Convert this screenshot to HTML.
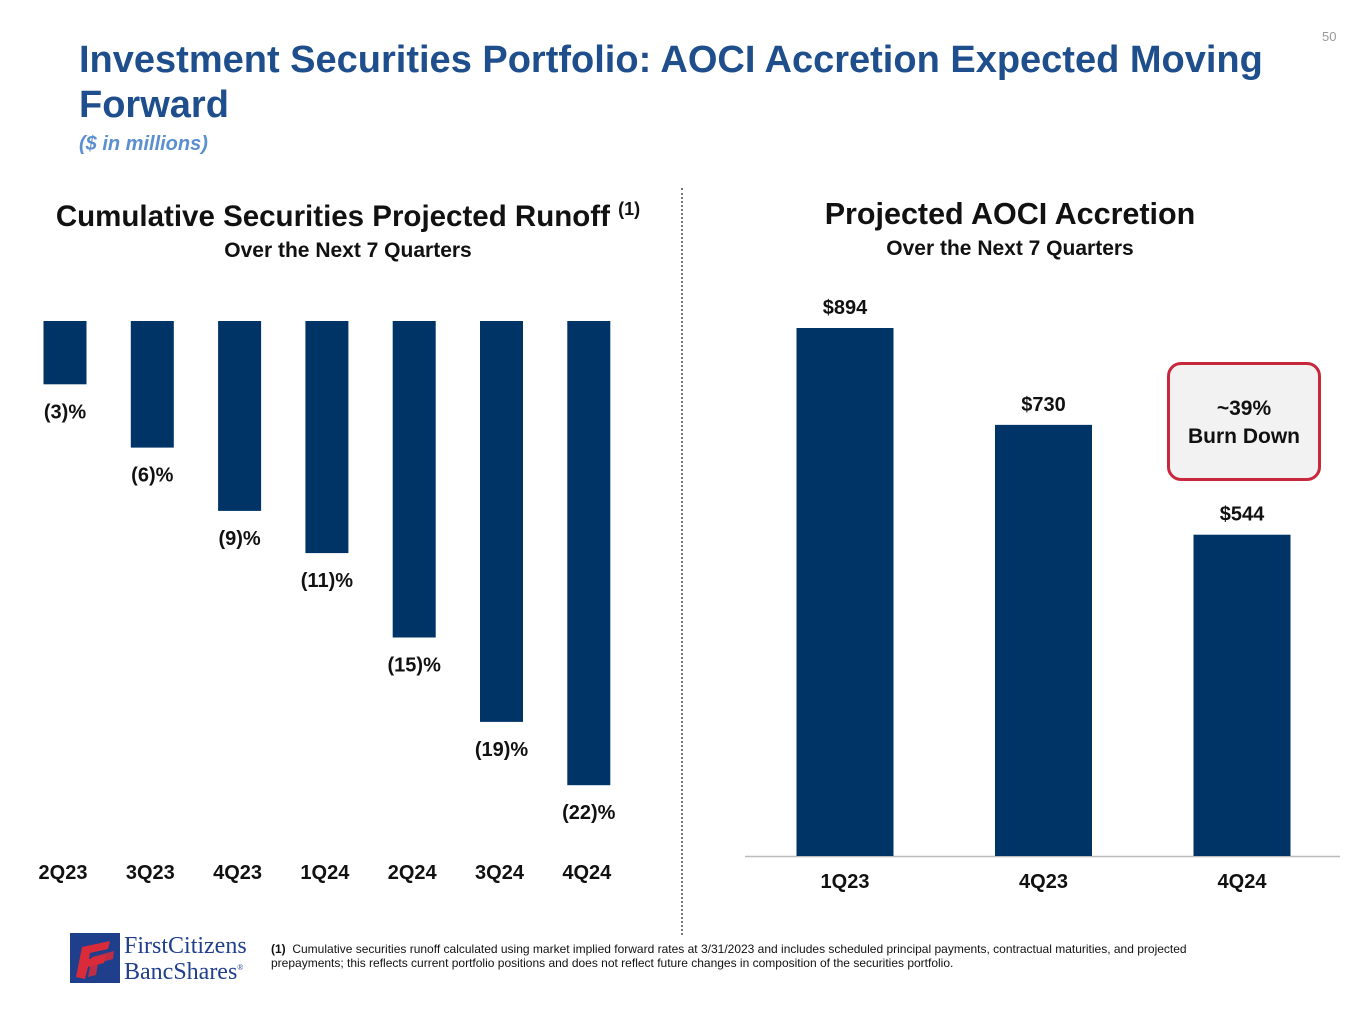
<!DOCTYPE html>
<html><head><meta charset="utf-8"><style>
body{margin:0;width:1365px;height:1024px;background:#fff;font-family:"Liberation Sans",Arial,sans-serif;position:relative;overflow:hidden}
.a{position:absolute}
</style></head><body>
<div class="a" style="left:1322px;top:29px;font-size:13px;color:#999">50</div>
<div class="a" style="left:79px;top:38px;width:1230px;font-size:38px;font-weight:bold;color:#1f4e8c;line-height:45px">Investment Securities Portfolio: AOCI Accretion Expected Moving Forward</div>
<div class="a" style="left:79px;top:133px;font-size:20px;font-weight:bold;font-style:italic;color:#5b8fd0">($ in millions)</div>
<div class="a" style="left:681px;top:188px;height:747px;border-left:2px dotted #777"></div>
<div class="a" style="left:0px;width:696px;top:199px;text-align:center;font-weight:bold;color:#111"><div style="font-size:29.5px;white-space:nowrap">Cumulative Securities Projected Runoff <sup style="font-size:18px">(1)</sup></div><div style="font-size:21px;margin-top:5px">Over the Next 7 Quarters</div></div>
<div class="a" style="left:740px;width:540px;top:197px;text-align:center;font-weight:bold;color:#111"><div style="font-size:30.5px">Projected AOCI Accretion</div><div style="font-size:21px;margin-top:5px">Over the Next 7 Quarters</div></div>
<svg class="a" style="left:0;top:0" width="1365" height="1024" id="charts"></svg>
<div class="a" style="left:1167px;top:362px;width:154px;height:119px;border:3px solid #c8283c;border-radius:14px;background:#f2f2f2;text-align:center;font-weight:bold;font-size:21px;color:#111;line-height:28px;box-sizing:border-box;padding-top:30px">~39%<br>Burn Down</div>
<svg class="a" style="left:70px;top:933px" width="50" height="50"><rect width="50" height="50" fill="#1f3f8c"/><path d="M6,44 L12,14 L40,8 L38,16 L20,20 L19,26 L36,22 L34,30 L18,34 L15,46Z" fill="#d92b3a"/><path d="M18,44 L22,24 L44,18 L43,26 L28,30 L26,42Z" fill="#d92b3a" opacity=".85"/></svg>
<div class="a" style="left:124px;top:935px;font-family:'Liberation Serif',serif;color:#1f3f8c;font-size:24px;line-height:22px">FirstCitizens<br>BancShares<sup style="font-size:8px">®</sup></div>
<div class="a" style="left:271px;top:942px;width:990px;font-size:12px;line-height:14px;color:#111"><b>(1)</b>&nbsp; Cumulative securities runoff calculated using market implied forward rates at 3/31/2023 and includes scheduled principal payments, contractual maturities, and projected prepayments; this reflects current portfolio positions and does not reflect future changes in composition of the securities portfolio.</div>
<script>
const runoffQuarters=["2Q23","3Q23","4Q23","1Q24","2Q24","3Q24","4Q24"];
const runoffValues=[3,6,9,11,15,19,22];
const aociQuarters=["1Q23","4Q23","4Q24"];
const aociValues=[894,730,544];
const NS="http://www.w3.org/2000/svg",svg=document.getElementById('charts');
function mk(t,at,txt){const e=document.createElementNS(NS,t);for(const k in at)e.setAttribute(k,at[k]);if(txt!=null)e.textContent=txt;svg.appendChild(e);return e;}
const navy="#003366";
const lx=i=>65+i*87.3, ly=v=>321+v*21.1;
runoffValues.forEach((v,i)=>{
 const r=mk('rect',{x:lx(i)-21.5,y:321,width:43,height:ly(v)-321,fill:navy});
 
 
 const t=mk('text',{x:lx(i),y:ly(v)+34,'text-anchor':'middle','font-size':20,'font-weight':'bold',fill:'#111'},'('+v+')%');
 
 
 const c=mk('text',{x:lx(i)-2,y:879,'text-anchor':'middle','font-size':20,'font-weight':'bold',fill:'#111'},runoffQuarters[i]);
 
 
});
const rx=i=>845+i*198.5, ry=v=>856-v*0.5906;
const ax=mk('line',{x1:745,x2:1340,y1:856.5,y2:856.5,stroke:'#bbb','stroke-width':1.5});


aociValues.forEach((v,i)=>{
 const r=mk('rect',{x:rx(i)-48.5,y:ry(v),width:97,height:856-ry(v),fill:navy});
 
 
 const t=mk('text',{x:rx(i),y:ry(v)-14,'text-anchor':'middle','font-size':20,'font-weight':'bold',fill:'#111'},'$'+v);
 
 
 const c=mk('text',{x:rx(i),y:888,'text-anchor':'middle','font-size':20,'font-weight':'bold',fill:'#111'},aociQuarters[i]);
 
 
});
</script>
</body></html>
